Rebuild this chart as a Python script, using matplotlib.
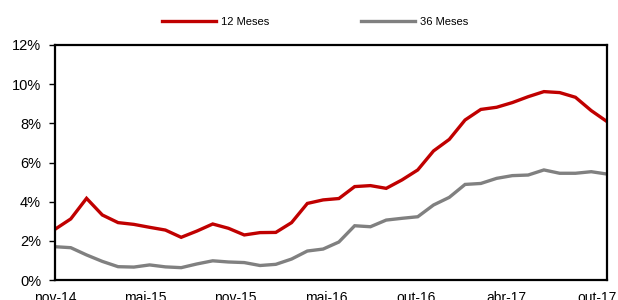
import matplotlib
matplotlib.use("Agg")
import matplotlib.pyplot as plt
import numpy as np
from matplotlib.ticker import FuncFormatter

plt.rcParams['font.family'] = ['Liberation Sans', 'DejaVu Sans']

tick_labels = ["nov-14", "mai-15", "nov-15", "mai-16", "out-16", "abr-17", "out-17"]

series_12m = [2.59, 3.12, 4.17, 3.32, 2.93, 2.84, 2.69, 2.55, 2.18, 2.50,
              2.86, 2.64, 2.30, 2.42, 2.43, 2.93, 3.91, 4.09, 4.16, 4.77,
              4.82, 4.68, 5.11, 5.62, 6.59, 7.18, 8.17, 8.71, 8.82, 9.06,
              9.36, 9.62, 9.57, 9.33, 8.65, 8.09]
series_36m = [1.70, 1.65, 1.28, 0.95, 0.68, 0.66, 0.77, 0.67, 0.63, 0.82,
              0.98, 0.92, 0.89, 0.74, 0.80, 1.07, 1.48, 1.58, 1.94, 2.77,
              2.72, 3.06, 3.15, 3.23, 3.83, 4.22, 4.88, 4.93, 5.19, 5.33,
              5.36, 5.62, 5.45, 5.45, 5.53, 5.41]

x = np.arange(len(series_12m))

fig = plt.figure(figsize=(6.18, 3.0), dpi=100)
ax = fig.add_axes([55/618, 20/300, 552/618, 235/300])

ax.plot(x, series_12m, color="#C00000", lw=2.4, label="12 Meses", solid_joinstyle="miter")
ax.plot(x, series_36m, color="#808080", lw=2.4, label="36 Meses", solid_joinstyle="miter")

ax.set_xlim(0, len(x) - 1)
ax.set_ylim(0, 12)
ax.set_yticks(np.arange(0, 13, 2))
ax.yaxis.set_major_formatter(FuncFormatter(lambda v, p: f"{int(v)}%"))
tick_pos = [k * 5.73 for k in range(len(tick_labels))]
ax.set_xticks(tick_pos)
ax.set_xticklabels(tick_labels)

ax.tick_params(axis="y", direction="out", length=4, width=1, pad=6, labelsize=10.5, colors="black")
ax.tick_params(axis="x", length=0, pad=8, labelsize=10)

for s in ax.spines.values():
    s.set_linewidth(1.6)
    s.set_color("black")

fig.legend(loc="center", bbox_to_anchor=(0.51, 0.927), ncol=2, frameon=False,
           fontsize=8, handlelength=4.8, handletextpad=0.45, columnspacing=8.3)

fig.savefig("out.png", dpi=100)
